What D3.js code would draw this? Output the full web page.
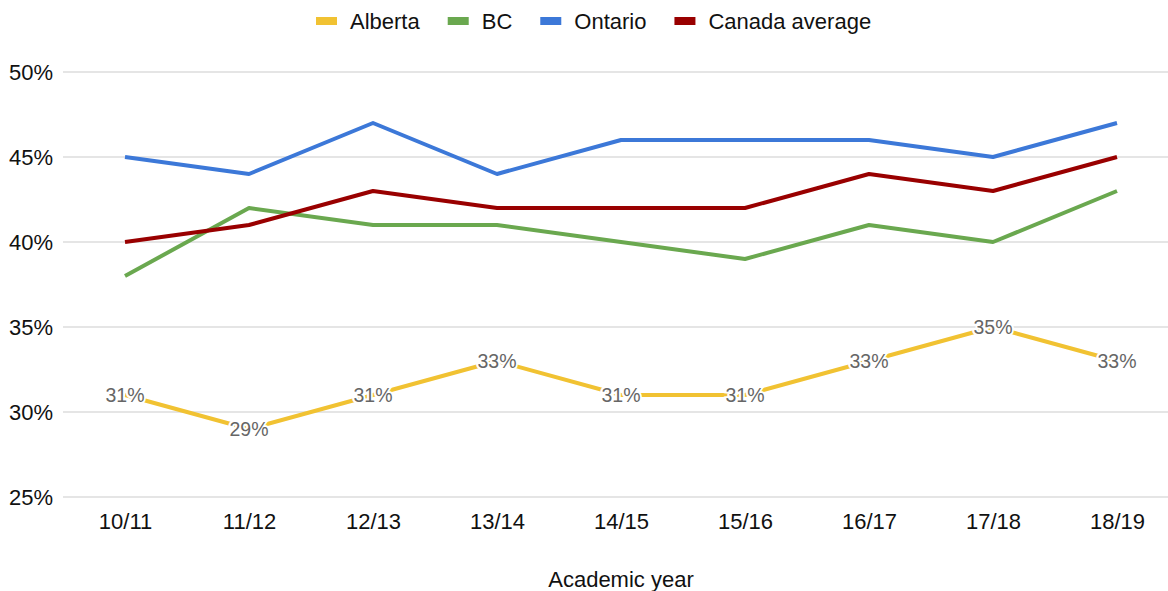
<!DOCTYPE html>
<html>
<head>
<meta charset="utf-8">
<script src="https://cdn.jsdelivr.net/npm/d3@7"></script>
<style>
  html, body { margin: 0; padding: 0; background: #fff; }
  svg { display: block; font-family: "Liberation Sans", Arial, sans-serif; }
</style>
</head>
<body>
<svg id="chart" width="1168" height="591"></svg>
<script>
// Academic years on the x axis
const years = ["10/11", "11/12", "12/13", "13/14", "14/15", "15/16", "16/17", "17/18", "18/19"];

// Share per province (percent)
const alberta = [31, 29, 31, 33, 31, 31, 33, 35, 33];
const bc      = [38, 42, 41, 41, 40, 39, 41, 40, 43];
const ontario = [45, 44, 47, 44, 46, 46, 46, 45, 47];
const canada  = [40, 41, 43, 42, 42, 42, 44, 43, 45];

const yTicks = [25, 30, 35, 40, 45, 50];

const seriesNames  = ["Alberta", "BC", "Ontario", "Canada average"];
const seriesValues = [alberta, bc, ontario, canada];
const seriesColors = ["#f1c232", "#6aa84f", "#3c78d8", "#990000"];

const svg = d3.select("#chart");
const FONT = "Liberation Sans, Arial, sans-serif";

const plot = { left: 63, right: 1179, top: 72, bottom: 497 };

const x = d3.scalePoint().domain(years).range([plot.left, plot.right]).padding(0.5);
const y = d3.scaleLinear().domain([25, 50]).range([plot.bottom, plot.top]);

// Horizontal gridlines
svg.append("g")
  .selectAll("line")
  .data(yTicks)
  .join("line")
  .attr("x1", plot.left).attr("x2", plot.right)
  .attr("y1", d => y(d)).attr("y2", d => y(d))
  .attr("stroke", "#cccccc").attr("stroke-width", 1.2);

// Y axis labels
const yAxis = d3.axisLeft(y).tickValues(yTicks).tickFormat(d => d + "%").tickSize(0).tickPadding(10);
svg.append("g")
  .attr("transform", `translate(${plot.left},0)`)
  .call(yAxis)
  .call(g => g.select(".domain").remove())
  .call(g => g.selectAll("text")
    .attr("font-size", 22).attr("fill", "#111").attr("font-family", FONT));

// X axis labels
const xAxis = d3.axisBottom(x).tickSize(0).tickPadding(16);
svg.append("g")
  .attr("transform", `translate(0,${plot.bottom})`)
  .call(xAxis)
  .call(g => g.select(".domain").remove())
  .call(g => g.selectAll("text")
    .attr("font-size", 22).attr("fill", "#111").attr("font-family", FONT));

// Axis title
svg.append("text")
  .attr("x", 621).attr("y", 587)
  .attr("text-anchor", "middle")
  .attr("font-size", 22).attr("fill", "#111")
  .text("Academic year");

// Series lines
const line = d3.line()
  .x((d, i) => x(years[i]))
  .y(d => y(d));

seriesValues.forEach((vals, k) => {
  svg.append("path")
    .datum(vals)
    .attr("fill", "none")
    .attr("stroke", seriesColors[k])
    .attr("stroke-width", 4)
    .attr("stroke-linejoin", "round")
    .attr("d", line);
});

// Value labels on the Alberta series
svg.append("g")
  .selectAll("text")
  .data(alberta)
  .join("text")
  .attr("x", (d, i) => x(years[i]))
  .attr("y", d => y(d))
  .attr("dy", "0.35em")
  .attr("text-anchor", "middle")
  .attr("font-size", 19.5)
  .attr("fill", "#666666")
  .attr("stroke", "#ffffff")
  .attr("stroke-width", 4)
  .attr("paint-order", "stroke")
  .text(d => d + "%");

// Legend
const legend = svg.append("g");
let lx = 316;
seriesNames.forEach((name, k) => {
  legend.append("rect")
    .attr("x", lx).attr("y", 17)
    .attr("width", 21).attr("height", 8)
    .attr("fill", seriesColors[k]);
  const t = legend.append("text")
    .attr("x", lx + 34).attr("y", 21)
    .attr("dy", "0.35em")
    .attr("font-size", 22).attr("fill", "#111")
    .text(name);
  lx += 34 + t.node().getComputedTextLength() + 28;
});
</script>
</body>
</html>
